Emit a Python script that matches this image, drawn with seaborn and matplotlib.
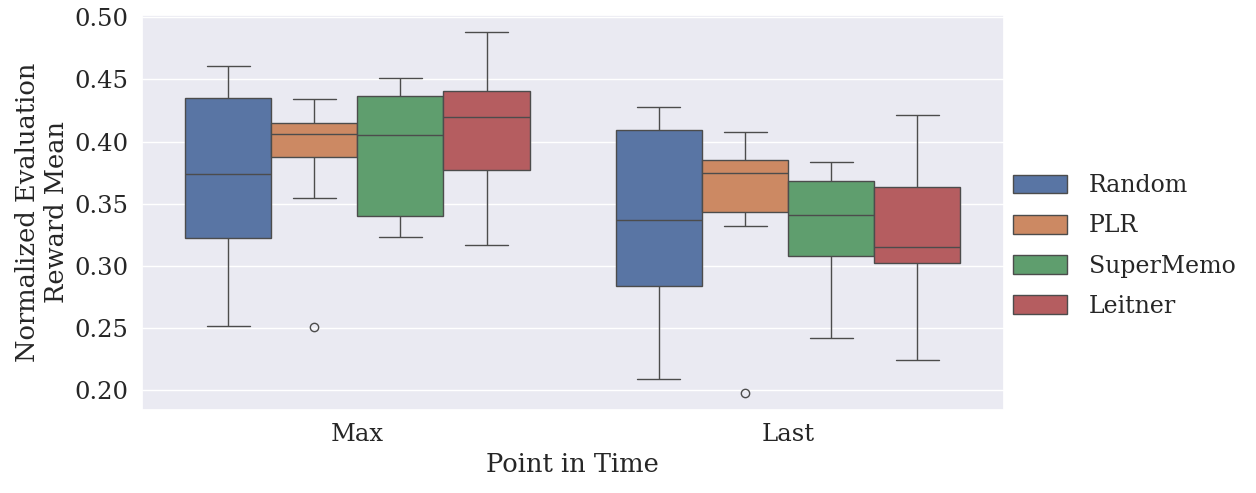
import pandas as pd
import matplotlib
matplotlib.use('Agg')
import matplotlib.pyplot as plt
import seaborn as sns

# values (whisker low, Q1, median, Q3, whisker high, plus outliers)
methods = ['Random', 'PLR', 'SuperMemo', 'Leitner']
times = ['Max', 'Last']

max_random = [0.2517, 0.3226, 0.374, 0.4347, 0.4605]
max_plr = [0.251, 0.355, 0.388, 0.400, 0.4065, 0.410, 0.4153, 0.430, 0.434]
max_supermemo = [0.3234, 0.340, 0.405, 0.437, 0.4508]
max_leitner = [0.317, 0.3775, 0.420, 0.441, 0.488]

last_random = [0.209, 0.284, 0.337, 0.409, 0.4275]
last_plr = [0.1977, 0.332, 0.343, 0.360, 0.375, 0.380, 0.3855, 0.400, 0.408]
last_supermemo = [0.242, 0.308, 0.341, 0.368, 0.384]
last_leitner = [0.2244, 0.3025, 0.3154, 0.3638, 0.4218]

groups = {
    ('Max', 'Random'): max_random,
    ('Max', 'PLR'): max_plr,
    ('Max', 'SuperMemo'): max_supermemo,
    ('Max', 'Leitner'): max_leitner,
    ('Last', 'Random'): last_random,
    ('Last', 'PLR'): last_plr,
    ('Last', 'SuperMemo'): last_supermemo,
    ('Last', 'Leitner'): last_leitner,
}

rows = []
for (t, m), vals in groups.items():
    for v in vals:
        rows.append({'Point in Time': t, 'Method': m, 'value': v})
df = pd.DataFrame(rows)

sns.set_theme(style='darkgrid')
plt.rcParams['font.family'] = ['DejaVu Serif']

fig, ax = plt.subplots(figsize=(12.56, 4.93), dpi=100)
sns.boxplot(data=df, x='Point in Time', y='value', hue='Method',
            order=times, hue_order=methods, ax=ax)

ax.set_xlabel('Point in Time', fontsize=18.5)
ax.set_ylabel('Normalized Evaluation\nReward Mean', fontsize=18.5)
ax.tick_params(axis='both', labelsize=17.5)
ax.set_yticks([0.20, 0.25, 0.30, 0.35, 0.40, 0.45, 0.50])
ax.set_ylim(0.184, 0.502)

ax.legend(loc='center left', bbox_to_anchor=(1.0, 0.415), frameon=False,
          fontsize=17, labelspacing=0.73, handlelength=2.3, handleheight=0.85,
          handletextpad=0.9, borderaxespad=0.0)

plt.subplots_adjust(left=0.113, right=0.799, top=0.970, bottom=0.168)
plt.savefig('out.png', dpi=100)
